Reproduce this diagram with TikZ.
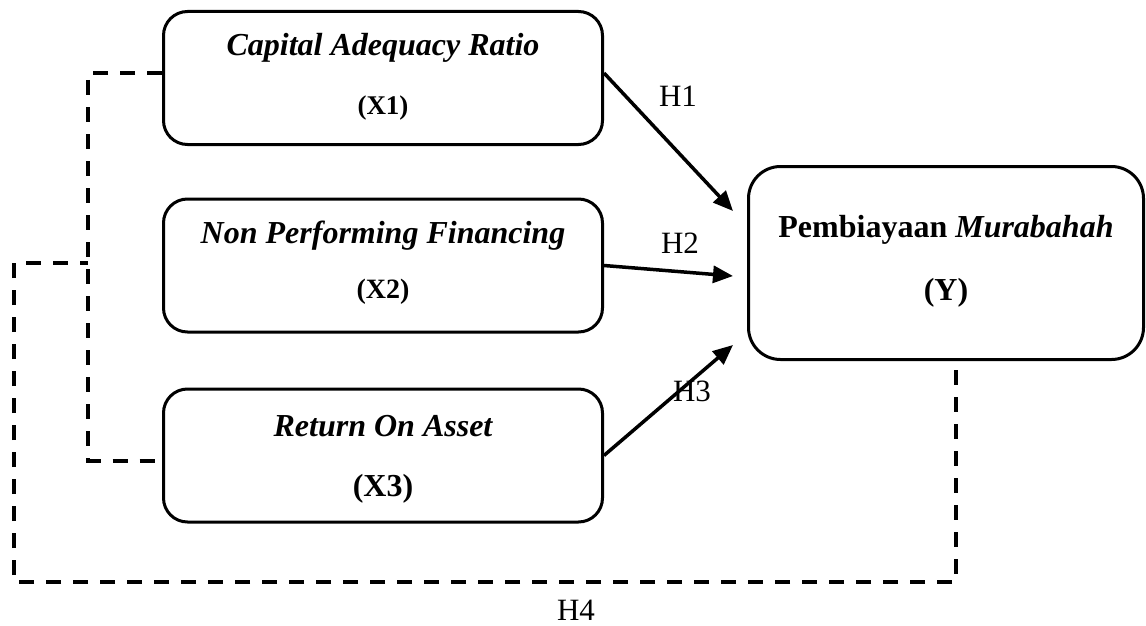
\documentclass[tikz,border=0pt]{standalone}
\usepackage{fontspec}
\setmainfont{Liberation Serif}
\usetikzlibrary{arrows.meta}
\usetikzlibrary{calc}

\tikzset{
  varbox/.style={draw,line width=3pt,rounded corners=24pt,minimum width=439pt,minimum height=133pt,inner sep=0pt},
  ybox/.style={draw,line width=3pt,rounded corners=32pt,minimum width=395pt,minimum height=193pt,inner sep=0pt},
  hyp/.style={line width=3.5pt,-{Triangle[length=20pt,width=17pt]}},
  dashline/.style={line width=4pt,dash pattern=on 15pt off 12pt},
  vartitle/.style={anchor=base,font=\fontsize{32}{38}\selectfont\bfseries\itshape},
  varcode/.style={anchor=base,font=\fontsize{27}{32}\selectfont\bfseries},
  hlab/.style={inner sep=1pt,font=\fontsize{31}{36}\selectfont},
}

\begin{document}
\begin{tikzpicture}[x=1pt,y=-1pt]
\useasboundingbox (0,0) rectangle (1146,626);
% boxes
\node[varbox] (X1) at (383,78) {};
\node[varbox] (X2) at (383,265.5) {};
\node[varbox] (X3) at (383,455.5) {};
\node[ybox] (Y) at (946,263) {};
% texts
\node[vartitle] (X1t) at (383,56) {Capital Adequacy Ratio};
\node[varcode] (X1c) at (383,114) {(X1)};
\node[vartitle] (X2t) at (383,243) {Non Performing Financing};
\node[varcode,font=\fontsize{28}{33}\selectfont\bfseries] (X2c) at (383,298) {(X2)};
\node[vartitle] (X3t) at (383,436) {Return On Asset};
\node[varcode,font=\fontsize{32}{38}\selectfont\bfseries] (X3c) at (383,496) {(X3)};
\node[anchor=base,font=\fontsize{32}{38}\selectfont\bfseries] (Yt) at (946,237) {Pembiayaan \textit{Murabahah}};
\node[anchor=base,font=\fontsize{32}{38}\selectfont\bfseries] (Yc) at (946,300) {(Y)};
% arrow ends
\coordinate (e1) at (733,211);
\coordinate (e2) at (733,276);
\coordinate (e3) at (733,345);
\draw[hyp] ([yshift=5pt]X1.east) -- (e1);
\draw[hyp] (X2.east) -- (e2);
\draw[hyp] (X3.east) -- (e3);
\node[hlab] (H1) at (678,96) {H1};
\node[hlab] (H2) at (680,243) {H2};
\node[hlab] (H3) at (692,391) {H3};
% dashed links
\coordinate (jn) at (88,263);
\coordinate (lo) at (14,582);
\draw[dashline] ([yshift=5pt]X1.west) -| (jn) |- ([yshift=-5pt]X3.west);
\draw[dashline] ([xshift=10pt,yshift=-9pt]Y.south) |- (lo) |- (jn);
\node[hlab] (H4) at (576,610) {H4};
\end{tikzpicture}
\end{document}
